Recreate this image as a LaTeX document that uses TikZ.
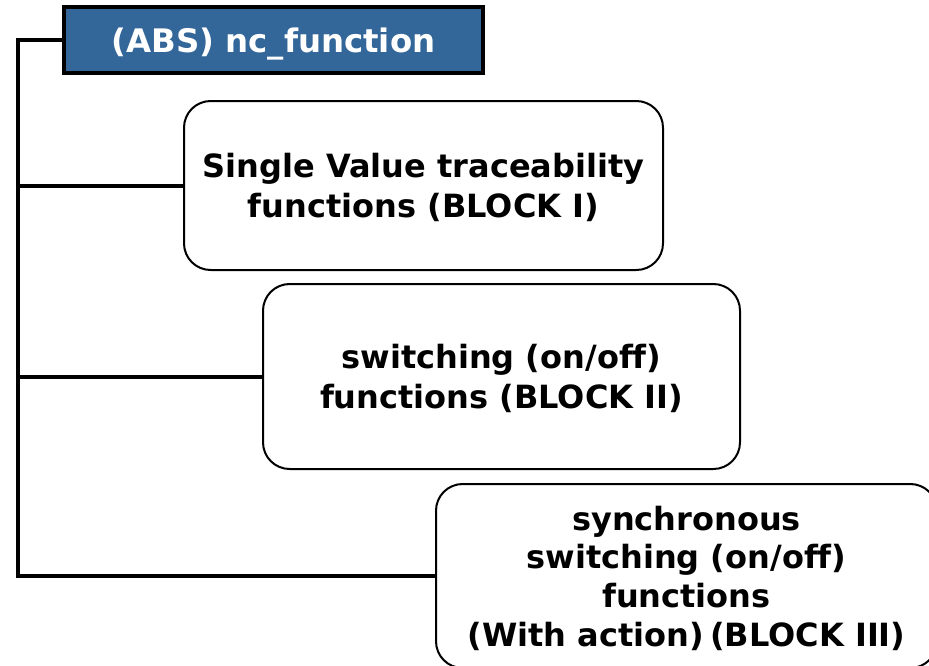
\documentclass[tikz,border=0pt]{standalone}
\usepackage{fontspec}
\setmainfont[Ligatures={NoCommon}]{DejaVu Sans}
\definecolor{headblue}{RGB}{51,102,153}
\begin{document}
\begin{tikzpicture}[x=0.75pt,y=-0.75pt,
  headbox/.style={draw=black, line width=2.4pt, fill=headblue, text=white,
    font=\fontsize{24.3}{28}\selectfont\bfseries, inner sep=0pt,
    text height=18pt, text depth=0pt},
  blockbox/.style={draw=black, line width=1.5pt, fill=white, rounded corners=20pt,
    align=center, inner sep=0pt, text depth=-2pt, font=\fontsize{24}{30}\selectfont\bfseries},
  link/.style={draw=black, line width=3pt}]
  \path[use as bounding box, clip] (0,0) rectangle (929,665);

  % header and the three function blocks
  \node[headbox, minimum width=0.75*419pt, minimum height=0.75*66pt] (head) at (273.5,40) {(ABS) nc\_function};
  \node[blockbox, minimum width=0.75*479pt, minimum height=0.75*169pt] (b1) at (423.5,185.5)
    {Single Value traceability\\functions (BLOCK I)};
  \node[blockbox, minimum width=0.75*477pt, minimum height=0.75*185pt] (b2) at (501.5,376.5)
    {switching (on/off)\\functions (BLOCK II)};
  \node[blockbox, minimum width=0.75*501pt, minimum height=0.75*184pt,
    font=\fontsize{24}{29}\selectfont\bfseries] (b3) at (686.5,576)
    {synchronous\\switching (on/off)\\functions\\(With action)\hspace{0.2em}(BLOCK III)};

  % tree spine on the left
  \coordinate (spine) at (18,40);
  \draw[link] (head.west) -- (spine) |- (b3.west);
  \draw[link] (b1.west) -- (b1.west -| spine);
  \draw[link] (b2.west) -- (b2.west -| spine);
\end{tikzpicture}
\end{document}
